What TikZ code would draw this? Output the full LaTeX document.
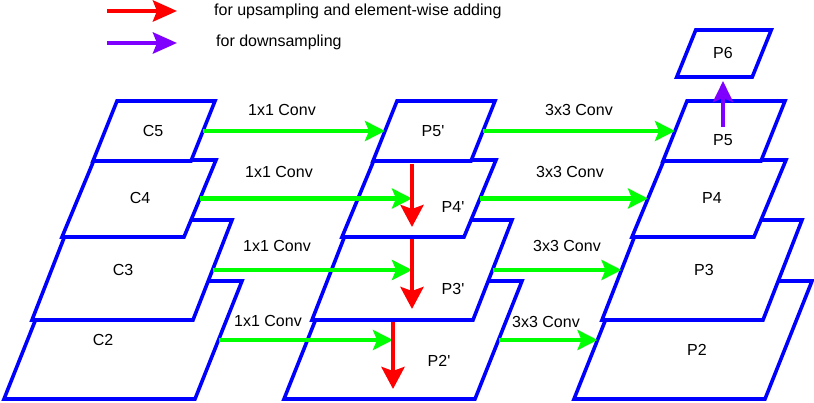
\documentclass[tikz,border=0pt]{standalone}
\usepackage{fontspec}
\setmainfont{Liberation Sans}
\usetikzlibrary{arrows.meta}
\definecolor{fpnblue}{RGB}{0,0,255}
\definecolor{fpngreen}{RGB}{0,255,0}
\definecolor{fpnred}{RGB}{255,0,0}
\definecolor{fpnpurple}{RGB}{127,0,255}
% name, cx, cy, side width, height, slant
\newcommand\fpnlayer[6]{%
  \node[layerbox, minimum width=#4pt, minimum height=#5pt] (#1) at (#2,#3) {};
  \filldraw[layerline] ([xshift=#6pt/2]#1.north west) -- ([xshift=#6pt/2]#1.north east)
    -- ([xshift=-#6pt/2]#1.south east) -- ([xshift=-#6pt/2]#1.south west) -- cycle;
}
\begin{document}
\begin{tikzpicture}[x=1pt,y=-1pt,
  font=\fontsize{16}{19}\selectfont,
  layerbox/.style={inner sep=0pt, outer sep=0pt, draw=none},
  layerline/.style={draw=fpnblue, fill=white, line width=3.6pt, line join=miter},
  conv/.style={draw=fpngreen, line width=4.5pt, -{Stealth[length=20pt,width=20pt,inset=4pt]}},
  upadd/.style={draw=fpnred, line width=4.5pt, -{Stealth[length=22pt,width=23pt,inset=4pt]}},
  down/.style={draw=fpnpurple, line width=4.5pt, -{Stealth[length=21pt,width=20pt,inset=4pt]}},
  legred/.style={draw=fpnred, line width=4.5pt, -{Stealth[length=24pt,width=21pt,inset=4pt]}},
  legpurple/.style={draw=fpnpurple, line width=4.5pt, -{Stealth[length=24pt,width=21pt,inset=4pt]}},
  lbl/.style={inner sep=0pt},
]
\useasboundingbox (0,0) rectangle (814,403);
% left column
\fpnlayer{C2}{123}{340}{191}{118}{47}
\fpnlayer{C3}{132}{270}{161}{100}{39}
\fpnlayer{C4}{139}{198.5}{122}{77}{32}
\fpnlayer{C5}{154}{131}{98}{60}{24}
% middle column
\fpnlayer{P2p}{403}{340}{191}{118}{47}
\fpnlayer{P3p}{412}{270}{161}{100}{39}
\fpnlayer{P4p}{419}{198.5}{122}{77}{32}
\fpnlayer{P5p}{434}{131}{98}{60}{24}
% right column
\fpnlayer{P2}{693}{340}{191}{118}{47}
\fpnlayer{P3}{702}{270}{161}{100}{39}
\fpnlayer{P4}{709}{198.5}{122}{77}{32}
\fpnlayer{P5}{724}{131}{98}{60}{24}
\fpnlayer{P6}{724}{53.5}{75.5}{47}{19}
% layer labels
\node[lbl] (tC5) at (153,131) {C5};
\node[lbl] (tC4) at (140,198) {C4};
\node[lbl] (tC3) at (123,270) {C3};
\node[lbl] (tC2) at (103,340) {C2};
\node[lbl] (tP5p) at (433,131) {P5\textquotesingle};
\node[lbl] (tP4p) at (453,207) {P4\textquotesingle};
\node[lbl] (tP3p) at (453,289) {P3\textquotesingle};
\node[lbl] (tP2p) at (439,361) {P2\textquotesingle};
\node[lbl] (tP6) at (723,53) {P6};
\node[lbl] (tP5) at (723,140) {P5};
\node[lbl] (tP4) at (712,198) {P4};
\node[lbl] (tP3) at (704,270) {P3};
\node[lbl] (tP2) at (697,350) {P2};
% connector labels
\node[lbl] (k1) at (282,110) {1x1 Conv};
\node[lbl] (k2) at (279,172) {1x1 Conv};
\node[lbl] (k3) at (277,246) {1x1 Conv};
\node[lbl] (k4) at (268,321) {1x1 Conv};
\node[lbl] (k5) at (579,110) {3x3 Conv};
\node[lbl] (k6) at (570,172) {3x3 Conv};
\node[lbl] (k7) at (567,246) {3x3 Conv};
\node[lbl] (k8) at (546,322) {3x3 Conv};
% arrow points
\coordinate (u1s) at (412,164); \coordinate (u1e) at (412,227);
\coordinate (u2s) at (412,239); \coordinate (u2e) at (412,309);
\coordinate (u3s) at (393,322); \coordinate (u3e) at (393,389);
\coordinate (d1s) at (723,127);
% 1x1 conv arrows
\draw[conv] (C5) -- (P5p);
\draw[conv] (C4) -- (C4 -| u1s);
\draw[conv] (C3) -- (C3 -| u2s);
\draw[conv] (C2) -- (C2 -| u3s);
% 3x3 conv arrows
\draw[conv] (P5p) -- (P5);
\draw[conv] (P4p) -- (P4);
\draw[conv] (P3p) -- (P3);
\draw[conv] (P2p) -- (P2);
% upsampling arrows
\draw[upadd] (u1s) -- (u1e);
\draw[upadd] (u2s) -- (u2e);
\draw[upadd] (u3s) -- (u3e);
% downsampling arrow
\draw[down, shorten >=4pt] (d1s) -- (d1s |- P6.south);
% legend
\coordinate (l1s) at (107,11); \coordinate (l1e) at (177,11);
\coordinate (l2s) at (107,43); \coordinate (l2e) at (177,43);
\draw[legred] (l1s) -- (l1e);
\draw[legpurple] (l2s) -- (l2e);
\node[lbl, anchor=base west] (leg1) at (214,16) {for upsampling and element-wise adding};
\node[lbl, anchor=base west] (leg2) at (216,47) {for downsampling};
\end{tikzpicture}
\end{document}
